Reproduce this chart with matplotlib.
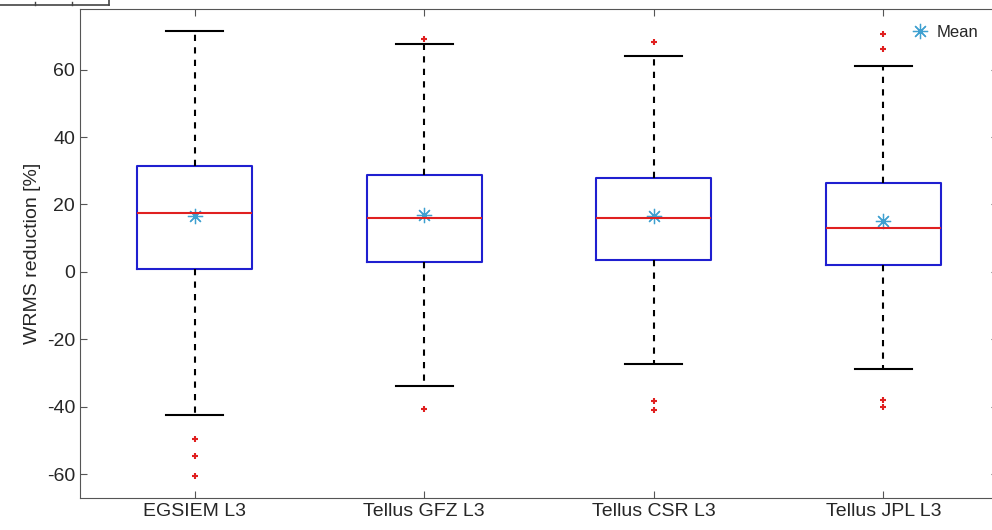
import matplotlib
matplotlib.use("Agg")
from matplotlib import pyplot as plt
from matplotlib.lines import Line2D

plt.rcParams['font.family'] = ['Liberation Sans', 'DejaVu Sans']
plt.rcParams['axes.unicode_minus'] = False

# data
labels = ["EGSIEM L3", "Tellus GFZ L3", "Tellus CSR L3", "Tellus JPL L3"]
q1 = [1.0, 2.8, 3.4, 1.9]
q3 = [31.3, 28.6, 28.0, 26.3]
medians = [17.4, 15.9, 15.9, 12.9]
means = [16.5, 16.8, 16.5, 15.0]
whisker_lo = [-42.6, -34.0, -27.4, -28.9]
whisker_hi = [71.4, 67.5, 64.2, 61.0]
outliers = [[-49.6, -54.7, -60.6], [69.0, -40.8], [68.1, -38.4, -41.1], [70.5, 66.0, -38.1, -40.2]]

stats = []
for i in range(len(labels)):
    stats.append({"label": labels[i], "q1": q1[i], "q3": q3[i], "med": medians[i],
                  "mean": means[i], "whislo": whisker_lo[i], "whishi": whisker_hi[i],
                  "fliers": outliers[i]})

fig = plt.figure(figsize=(9.92, 5.30), dpi=100)
ax = fig.add_axes([80 / 992, 1 - 497.7 / 530, 918 / 992, (497.7 - 9) / 530])

ax.bxp(stats, positions=[1, 2, 3, 4], widths=0.5, showmeans=False,
       boxprops=dict(color="#1f1fd0", linewidth=1.5),
       medianprops=dict(color="#e02020", linewidth=1.5),
       whiskerprops=dict(color="black", linewidth=1.5, linestyle=(0, (3, 3))),
       capprops=dict(color="black", linewidth=1.5),
       flierprops=dict(marker="+", markeredgecolor="#e02020", markersize=5, markeredgewidth=1.5))
# MATLAB style asterisk for the mean
ax.plot([1, 2, 3, 4], means, linestyle="none", marker=(8, 2, 0), markersize=11,
        color="#3fa0d0", markeredgewidth=0.9, label="Mean")

ax.set_xlim(0.5, 4.5)
ax.set_ylim(-67, 78)
ax.set_yticks([-60, -40, -20, 0, 20, 40, 60])
ax.set_ylabel("WRMS reduction [%]", fontsize=14, color="#262626")
ax.tick_params(direction="in", top=True, right=True, labelsize=14,
               colors="#555555", labelcolor="#262626", length=5)
for s in ax.spines.values():
    s.set_color("#555555")

ax.legend(loc="upper right", frameon=False, fontsize=12, handletextpad=0.4,
          handlelength=1.2, borderaxespad=0.1, bbox_to_anchor=(0.988, 0.985),
          labelcolor="#262626")

# fragment of the neighbouring panel at the top left
fig.add_artist(Line2D([0, 109 / 992], [1 - 5 / 530, 1 - 5 / 530], color="#444444", lw=1.2))
fig.add_artist(Line2D([109 / 992, 109 / 992], [1, 1 - 5 / 530], color="#444444", lw=1.2))
for xt in [35, 72]:
    fig.add_artist(Line2D([xt / 992, xt / 992], [1 - 5 / 530, 1 - 2 / 530], color="#444444", lw=1))

fig.savefig("out.png", dpi=100)
